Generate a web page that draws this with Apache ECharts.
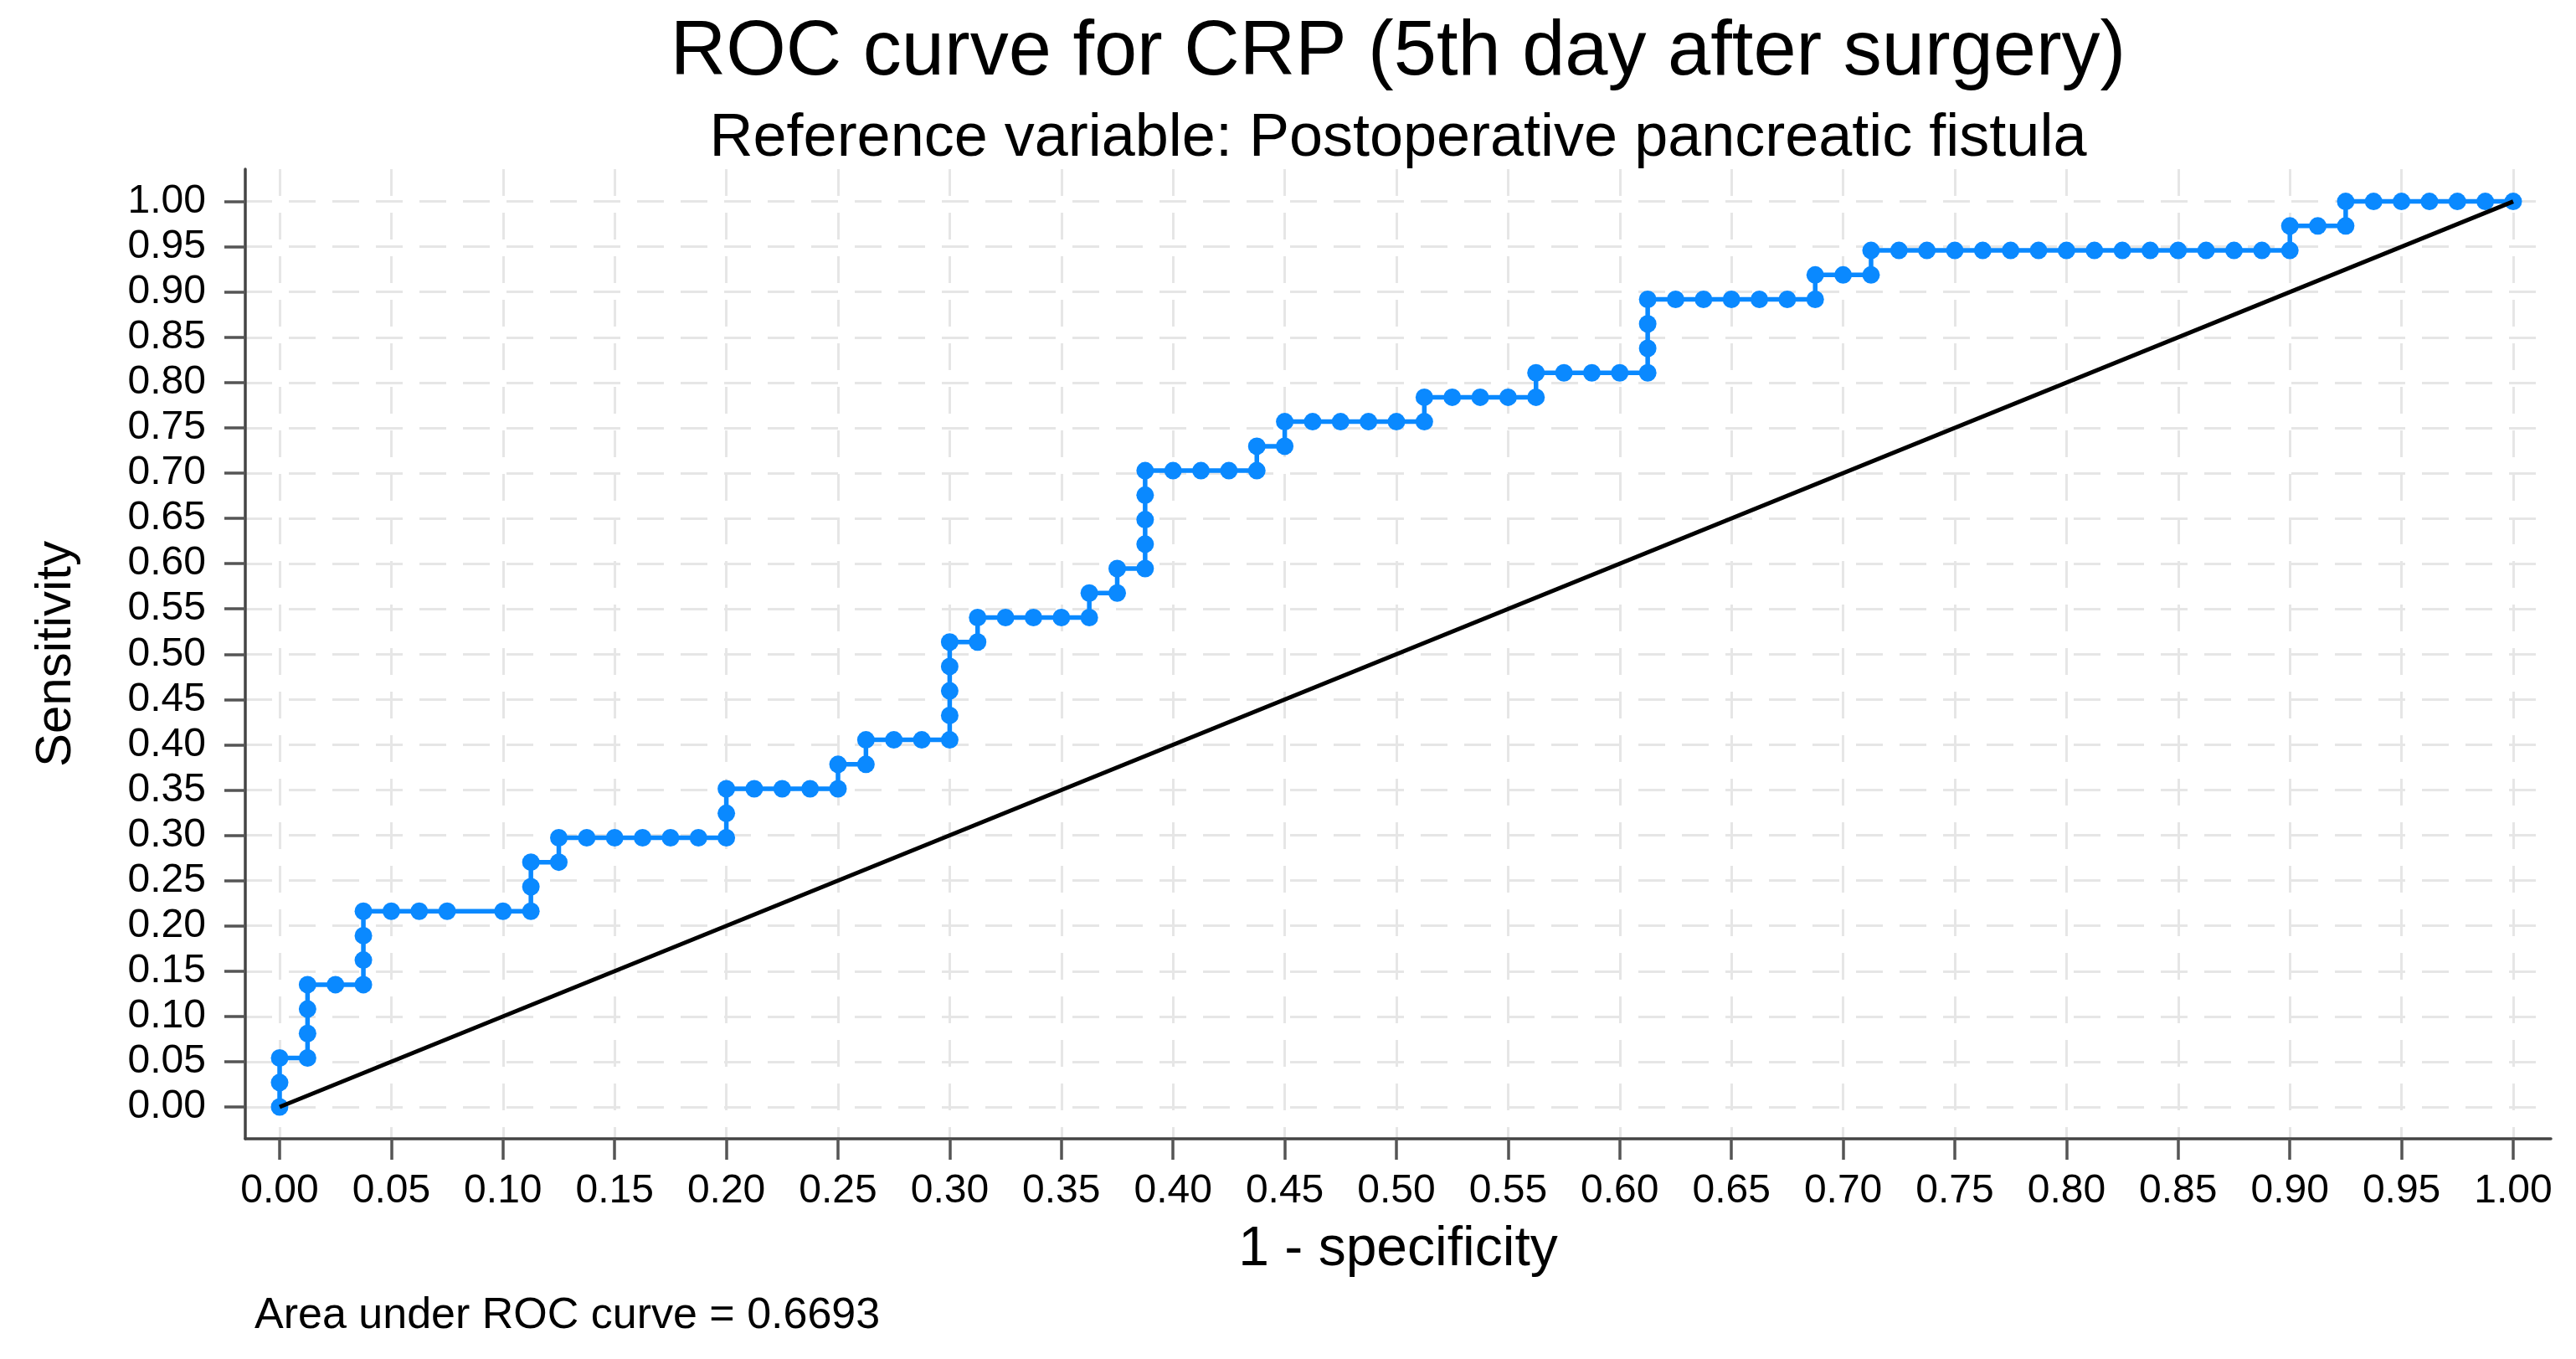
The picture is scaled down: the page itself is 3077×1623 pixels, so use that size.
<!DOCTYPE html>
<html>
<head>
<meta charset="utf-8">
<script src="https://cdn.jsdelivr.net/npm/echarts@6/dist/echarts.min.js"></script>
<style>
html,body{margin:0;padding:0;background:#ffffff;}
#chart{width:3077px;height:1623px;}
</style>
</head>
<body>
<div id="chart"></div>
<script>
// ---- data ----
const fpr = [0, 0, 0, 0.0125, 0.0125, 0.0125, 0.0125, 0.025, 0.0375, 0.0375, 0.0375, 0.0375, 0.05, 0.0625, 0.075, 0.1, 0.1125, 0.1125, 0.1125, 0.125, 0.125, 0.1375, 0.15, 0.1625, 0.175, 0.1875, 0.2, 0.2, 0.2, 0.2125, 0.225, 0.2375, 0.25, 0.25, 0.2625, 0.2625, 0.275, 0.2875, 0.3, 0.3, 0.3, 0.3, 0.3, 0.3125, 0.3125, 0.325, 0.3375, 0.35, 0.3625, 0.3625, 0.375, 0.375, 0.3875, 0.3875, 0.3875, 0.3875, 0.3875, 0.4, 0.4125, 0.425, 0.4375, 0.4375, 0.45, 0.45, 0.4625, 0.475, 0.4875, 0.5, 0.5125, 0.5125, 0.525, 0.5375, 0.55, 0.5625, 0.5625, 0.575, 0.5875, 0.6, 0.6125, 0.6125, 0.6125, 0.6125, 0.625, 0.6375, 0.65, 0.6625, 0.675, 0.6875, 0.6875, 0.7, 0.7125, 0.7125, 0.725, 0.7375, 0.75, 0.7625, 0.775, 0.7875, 0.8, 0.8125, 0.825, 0.8375, 0.85, 0.8625, 0.875, 0.8875, 0.9, 0.9, 0.9125, 0.925, 0.925, 0.9375, 0.95, 0.9625, 0.975, 0.9875, 1];
const sens = [0, 0.0270, 0.0541, 0.0541, 0.0811, 0.1081, 0.1351, 0.1351, 0.1351, 0.1622, 0.1892, 0.2162, 0.2162, 0.2162, 0.2162, 0.2162, 0.2162, 0.2432, 0.2703, 0.2703, 0.2973, 0.2973, 0.2973, 0.2973, 0.2973, 0.2973, 0.2973, 0.3243, 0.3514, 0.3514, 0.3514, 0.3514, 0.3514, 0.3784, 0.3784, 0.4054, 0.4054, 0.4054, 0.4054, 0.4324, 0.4595, 0.4865, 0.5135, 0.5135, 0.5405, 0.5405, 0.5405, 0.5405, 0.5405, 0.5676, 0.5676, 0.5946, 0.5946, 0.6216, 0.6486, 0.6757, 0.7027, 0.7027, 0.7027, 0.7027, 0.7027, 0.7297, 0.7297, 0.7568, 0.7568, 0.7568, 0.7568, 0.7568, 0.7568, 0.7838, 0.7838, 0.7838, 0.7838, 0.7838, 0.8108, 0.8108, 0.8108, 0.8108, 0.8108, 0.8378, 0.8649, 0.8919, 0.8919, 0.8919, 0.8919, 0.8919, 0.8919, 0.8919, 0.9189, 0.9189, 0.9189, 0.9459, 0.9459, 0.9459, 0.9459, 0.9459, 0.9459, 0.9459, 0.9459, 0.9459, 0.9459, 0.9459, 0.9459, 0.9459, 0.9459, 0.9459, 0.9459, 0.9730, 0.9730, 0.9730, 1, 1, 1, 1, 1, 1, 1];
const refX = [0, 1];
const refY = [0, 1];
const tickValues = [0, 0.05, 0.10, 0.15, 0.20, 0.25, 0.30, 0.35, 0.40, 0.45, 0.50, 0.55, 0.60, 0.65, 0.70, 0.75, 0.80, 0.85, 0.90, 0.95, 1.00];
const titleText = 'ROC curve for CRP (5th day after surgery)';
const subtitleText = 'Reference variable: Postoperative pancreatic fistula';
const xName = '1 - specificity';
const yName = 'Sensitivity';
const noteText = 'Area under ROC curve = 0.6693';

// ---- chart ----
const FONT = '"Liberation Sans", Arial, Helvetica, sans-serif';
const chart = echarts.init(document.getElementById('chart'), null, {renderer: 'canvas'});

const rocData = fpr.map((x, i) => [x, sens[i]]);
const refData = refX.map((x, i) => [x, refY[i]]);

function axisCommon() {
  return {
    type: 'value',
    axisLine: {show: true, onZero: false, lineStyle: {color: '#444444', width: 3.5}},
    axisTick: {show: true, customValues: tickValues, length: 25, inside: false, lineStyle: {color: '#555555', width: 3.5}},
    axisLabel: {show: true, customValues: tickValues, formatter: v => v.toFixed(2), fontSize: 48, color: '#000', fontFamily: FONT},
    splitLine: {show: true, lineStyle: {color: '#e6e6e6', width: 3, type: [32, 20]}},
    nameTextStyle: {fontSize: 66, color: '#000', fontFamily: FONT}
  };
}

const xAxis = Object.assign(axisCommon(), {
  min: -0.01537, max: 1.01687,
  name: xName, nameLocation: 'middle', nameGap: 100
});
xAxis.axisLabel.margin = 39;

const yAxis = Object.assign(axisCommon(), {
  min: -0.03514, max: 1.0357,
  name: yName, nameLocation: 'middle', nameGap: 196, nameRotate: 90
});
yAxis.axisLabel.margin = 47;
yAxis.nameTextStyle = {fontSize: 60, color: '#000', fontFamily: FONT};

const option = {
  animation: false,
  backgroundColor: '#ffffff',
  grid: {left: 293, top: 202, width: 2754, height: 1158},
  xAxis: xAxis,
  yAxis: yAxis,
  graphic: [
    {type: 'text', x: 1670, y: 64, style: {text: titleText, fontSize: 92, fontFamily: FONT, fill: '#000', align: 'center', verticalAlign: 'middle'}},
    {type: 'text', x: 1670, y: 166, style: {text: subtitleText, fontSize: 72, fontFamily: FONT, fill: '#000', align: 'center', verticalAlign: 'middle'}},
    {type: 'text', x: 304, y: 1572, style: {text: noteText, fontSize: 52, fontFamily: FONT, fill: '#000', align: 'left', verticalAlign: 'middle'}}
  ],
  series: [
    {
      type: 'line', data: rocData, symbol: 'circle', symbolSize: 21, showAllSymbol: true,
      lineStyle: {color: '#0a89ff', width: 5.5}, itemStyle: {color: '#0a89ff'},
      clip: false, z: 2, silent: true
    },
    {
      type: 'line', data: refData, symbol: 'none',
      lineStyle: {color: '#000000', width: 5}, clip: false, z: 3, silent: true
    }
  ]
};
chart.setOption(option);
</script>
</body>
</html>
